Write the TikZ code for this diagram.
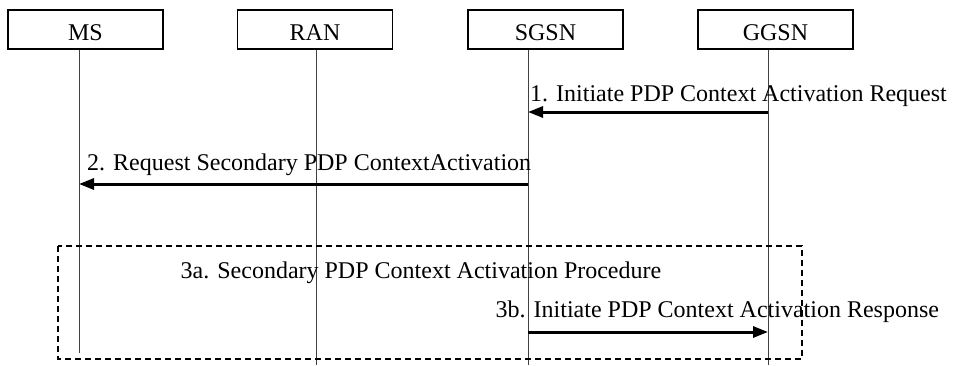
\documentclass[tikz,border=0pt]{standalone}
\usepackage{fontspec}
\setmainfont{Liberation Serif}
\usetikzlibrary{arrows.meta}
\begin{document}
\begin{tikzpicture}[x=1pt,y=-1pt,
  every node/.style={font=\fontsize{24}{28}\selectfont},
  entity/.style={draw,line width=1.2pt,minimum width=155pt,minimum height=39pt,inner sep=0pt,text height=22.4pt,text depth=0pt},
  lifeline/.style={line width=0.9pt,black!75},
  msg/.style={line width=3pt,-{Triangle[length=15pt,width=11pt]}},
  lbl/.style={anchor=base west,inner sep=0pt},
  group/.style={line width=1.5pt,dash pattern=on 6pt off 4pt}]
\useasboundingbox (0,0) rectangle (954,365);
% entities
\node[entity] (ms) at (85.5,29.5) {MS};
\node[entity] (ran) at (315,29.5) {RAN};
\node[entity] (sgsn) at (545.5,29.5) {SGSN};
\node[entity] (ggsn) at (775.5,29.5) {GGSN};
% lifeline ends
\coordinate (msb) at (79,353);
\coordinate (ranb) at (316,365);
\coordinate (sgsnb) at (528,365);
\coordinate (ggsnb) at (768,365);
\draw[lifeline] (ms.south -| msb) -- (msb);
\draw[lifeline] (ran.south -| ranb) -- (ranb);
\draw[lifeline] (sgsn.south -| sgsnb) -- (sgsnb);
\draw[lifeline] (ggsn.south -| ggsnb) -- (ggsnb);
% group box
\coordinate (g1) at (58,246);
\coordinate (g2) at (802,359);
\draw[group] (g1) rectangle (g2);
% message endpoints
\coordinate (m1) at (0,112);
\coordinate (m2) at (0,184);
\coordinate (m3) at (0,332);
\draw[msg] (ggsnb |- m1) -- (sgsnb |- m1);
\draw[msg] (sgsnb |- m2) -- (msb |- m2);
\draw[msg] (sgsnb |- m3) -- (ggsnb |- m3);
% labels
\node[lbl] (l1) at (530,101) {1. Initiate PDP Context Activation Request};
\node[lbl] (l2) at (87,170) {2. Request Secondary PDP ContextActivation};
\node[lbl] (l3a) at (180.5,278) {3a. Secondary PDP Context Activation Procedure};
\node[lbl] (l3b) at (495.5,317) {3b. Initiate PDP Context Activation Response};
\end{tikzpicture}
\end{document}
